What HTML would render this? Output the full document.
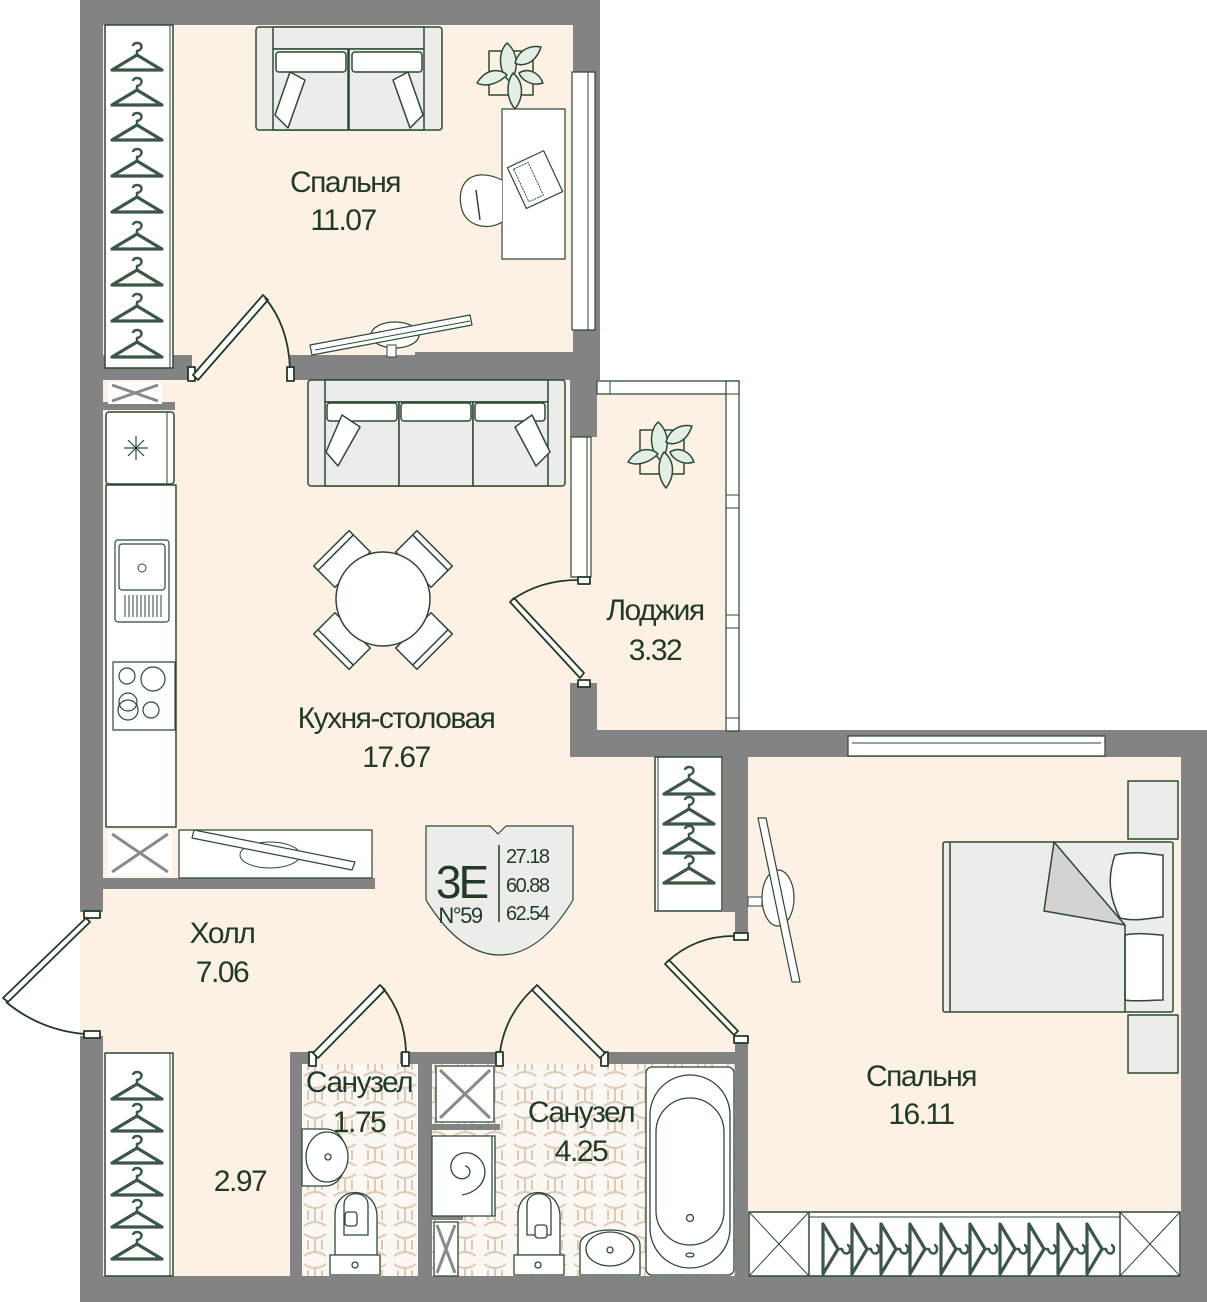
<!DOCTYPE html>
<html><head><meta charset="utf-8"><style>
html,body{margin:0;padding:0;background:#fff;}
svg{display:block}
text{font-family:"Liberation Sans",sans-serif;fill:#1f3a25;letter-spacing:-1.5px}
</style></head><body>
<svg width="1207" height="1302" viewBox="0 0 1207 1302" xmlns="http://www.w3.org/2000/svg">
<defs>
<symbol id="hg" viewBox="0 0 54 30" overflow="visible">
<path d="M2,27 L27,12 L52,27 Z" fill="none" stroke="#3b5746" stroke-width="3.2" stroke-linejoin="round"/>
<path d="M27,12 L27,8 C33,7 33,0 27,0 C24,0 23,2 23,3" fill="none" stroke="#3b5746" stroke-width="2.5"/>
</symbol>
<symbol id="hgv" viewBox="0 0 30 54" overflow="visible">
<path d="M3,2 L18,27 L3,52 Z" fill="none" stroke="#3b5746" stroke-width="3.2" stroke-linejoin="round"/>
<path d="M18,27 L22,27 C23,33 30,33 30,27 C30,24 28,23 27,23" fill="none" stroke="#3b5746" stroke-width="2.5"/>
</symbol>
<pattern id="tile" width="30" height="30" patternUnits="userSpaceOnUse">
<rect width="30" height="30" fill="#fbf7f2"/>
<path d="M4,4 Q15,12 26,4 M4,26 Q15,18 26,26 M8,10 L8,20 M22,10 L22,20 M15,8 L15,22" fill="none" stroke="#ddc9b4" stroke-width="2"/>
</pattern>
<g id="plant">
<rect x="-22" y="-22" width="44" height="44" fill="none" stroke="#2b4a33" stroke-width="1.5"/>
<path d="M-4,-30 C8,-20 8,0 -2,8 C-14,-4 -12,-22 -4,-30 Z" fill="#e2eee6" stroke="#2b4a33" stroke-width="1.5"/>
<path d="M30,-26 C24,-8 10,-6 4,-10 C8,-24 20,-28 30,-26 Z" fill="#e2eee6" stroke="#2b4a33" stroke-width="1.5"/>
<path d="M-34,10 C-24,-6 -10,-4 -4,2 C-14,12 -26,14 -34,10 Z" fill="#e2eee6" stroke="#2b4a33" stroke-width="1.5"/>
<path d="M4,36 C-6,24 -4,8 2,0 C14,10 12,26 4,36 Z" fill="#e2eee6" stroke="#2b4a33" stroke-width="1.5"/>
<path d="M32,10 C20,14 10,6 8,0 C18,-6 28,0 32,10 Z" fill="#e2eee6" stroke="#2b4a33" stroke-width="1.5"/>
</g>
</defs>
<g stroke-linejoin="round">
<!-- floors -->
<rect x="80" y="0" width="520" height="1302" fill="#fdf0e4"/>
<rect x="597" y="380" width="143" height="352" fill="#fdf0e4"/>
<rect x="570" y="730" width="637" height="572" fill="#fdf0e4"/>
<rect x="302" y="1064" width="116" height="212" fill="url(#tile)"/>
<rect x="432" y="1064" width="306" height="212" fill="url(#tile)"/>

<!-- walls -->
<g fill="#838383">
<rect x="80" y="0" width="520" height="25"/>
<rect x="80" y="0" width="23" height="912"/>
<rect x="80" y="1036" width="23" height="266"/>
<rect x="573" y="0" width="27" height="380"/>
<rect x="80" y="355" width="112" height="25"/>
<rect x="290" y="355" width="290" height="25"/>
<rect x="415" y="352" width="160" height="10"/>
<rect x="570" y="378" width="27" height="59"/>
<rect x="570" y="683" width="27" height="74"/>
<rect x="570" y="730" width="637" height="27"/>
<rect x="1181" y="730" width="26" height="572"/>
<rect x="80" y="1276" width="1127" height="26"/>
<rect x="103" y="878" width="272" height="11"/>
<rect x="103" y="402" width="72" height="8"/>
<rect x="723" y="757" width="25" height="155"/>
<rect x="735" y="905" width="13" height="30"/>
<rect x="735" y="1036" width="13" height="240"/>
<rect x="290" y="1052" width="22" height="12"/>
<rect x="400" y="1052" width="100" height="12"/>
<rect x="600" y="1052" width="148" height="12"/>
<rect x="290" y="1052" width="12" height="224"/>
<rect x="418" y="1052" width="14" height="224"/>
<rect x="418" y="1124" width="82" height="6"/>
<rect x="418" y="1214" width="45" height="6"/>
</g>

<!-- bedroom 1 wardrobe -->
<rect x="105" y="25" width="68" height="343" fill="#fff" stroke="#2b4a33" stroke-width="1.5"/>
<line x1="170" y1="25" x2="170" y2="368" stroke="#2b4a33" stroke-width="1"/>
<g>
<use href="#hg" x="110" y="43" width="54" height="30"/>
<use href="#hg" x="110" y="78" width="54" height="30"/>
<use href="#hg" x="110" y="113" width="54" height="30"/>
<use href="#hg" x="110" y="149" width="54" height="30"/>
<use href="#hg" x="110" y="185" width="54" height="30"/>
<use href="#hg" x="110" y="222" width="54" height="30"/>
<use href="#hg" x="110" y="258" width="54" height="30"/>
<use href="#hg" x="110" y="294" width="54" height="30"/>
<use href="#hg" x="110" y="330" width="54" height="30"/>
</g>
<!-- sofa bedroom 1 -->
<g stroke="#2b4a33" stroke-width="1.5">
<rect x="256" y="27" width="186" height="103" rx="3" fill="#ececea"/>
<rect x="273" y="27" width="151" height="22" fill="#ececea"/>
<rect x="273" y="49" width="75" height="81" fill="#ececea"/>
<rect x="349" y="49" width="75" height="81" fill="#ececea"/>
<rect x="276" y="52" width="70" height="20" rx="3" fill="#fff"/>
<rect x="352" y="52" width="70" height="20" rx="3" fill="#fff"/>
<path d="M275,115 L290,72 L305,80 L288,128 Z" fill="#fff"/>
<path d="M393,80 L408,72 L423,115 L410,128 Z" fill="#fff"/>
</g>
<use href="#plant" transform="translate(511,73)"/>
<!-- window bedroom1 -->
<rect x="572" y="72" width="23" height="258" fill="#fff" stroke="#2b4a33" stroke-width="1.2"/>
<line x1="588" y1="72" x2="588" y2="330" stroke="#2b4a33" stroke-width="1"/>
<!-- desk -->
<rect x="502" y="109" width="63" height="150" fill="#fff" stroke="#2b4a33" stroke-width="1.2"/>
<g transform="rotate(-25 533 180)"><rect x="515" y="158" width="40" height="45" fill="#fff" stroke="#2b4a33" stroke-width="1.2"/><rect x="520" y="162" width="16" height="36" fill="none" stroke="#2b4a33" stroke-width="1" stroke-dasharray="2 1"/></g>
<path d="M502,180 C470,165 455,185 462,210 C468,228 490,230 502,222" fill="#fff" stroke="#2b4a33" stroke-width="1.2"/>
<line x1="476" y1="190" x2="480" y2="220" stroke="#2b4a33" stroke-width="1.5"/>
<!-- TV bedroom1 -->
<ellipse cx="395" cy="335" rx="24" ry="13" fill="#fff" stroke="#2b4a33" stroke-width="1.2"/>
<rect x="387" y="345" width="9" height="12" fill="#fff" stroke="#2b4a33" stroke-width="1"/>
<polygon points="310,345 470,315 472,325 312,355" fill="#fff" stroke="#2b4a33" stroke-width="1.2"/>
<line x1="315" y1="350" x2="470" y2="321" stroke="#2b4a33" stroke-width="1"/>
<!-- bedroom1 door -->
<g stroke="#1f3a25" stroke-width="1.8" fill="#fff">
<rect x="188" y="367" width="7" height="14"/>
<rect x="287" y="367" width="7" height="14"/>
<polygon points="193,375 263,295 268,300 198,380"/>
<path d="M265,298 Q288,325 290,368" fill="none"/>
</g>

<!-- kitchen -->
<rect x="108" y="382" width="54" height="22" fill="#fff"/>
<path d="M112,385 L158,401 M158,385 L112,401" stroke="#8a8a8a" stroke-width="3"/>
<rect x="106" y="412" width="68" height="72" rx="3" fill="#fff" stroke="#2b4a33" stroke-width="1.5"/>
<line x1="167" y1="412" x2="167" y2="484" stroke="#2b4a33"/>
<path d="M136,436 v24 M124,448 h24 M128,440 l16,16 M144,440 l-16,16" stroke="#2b4a33" stroke-width="1.2"/>
<rect x="106" y="485" width="70" height="342" fill="#fff" stroke="#2b4a33" stroke-width="1.5"/>
<rect x="115" y="540" width="54" height="82" rx="3" fill="#fff" stroke="#2b4a33" stroke-width="1.2"/>
<rect x="119" y="544" width="46" height="46" rx="3" fill="#fff" stroke="#2b4a33" stroke-width="1.2"/>
<circle cx="142" cy="568" r="4" fill="none" stroke="#2b4a33"/>
<path d="M125,595v22M129,595v22M133,595v22M137,595v22M141,595v22M145,595v22M149,595v22M153,595v22M157,595v22M161,595v22" stroke="#2b4a33" stroke-width="1"/>
<rect x="113" y="662" width="62" height="68" fill="#fff" stroke="#2b4a33" stroke-width="1.2"/>
<g fill="none" stroke="#2b4a33" stroke-width="1.2"><circle cx="127" cy="676" r="8"/><circle cx="153" cy="679" r="12"/><circle cx="128" cy="710" r="10"/><circle cx="128" cy="702" r="9"/><circle cx="151" cy="710" r="8"/></g>
<rect x="108" y="830" width="64" height="46" fill="#fff"/>
<path d="M112,834 L168,872 M168,834 L112,872" stroke="#8a8a8a" stroke-width="3"/>
<rect x="179" y="830" width="193" height="48" fill="#fff" stroke="#2b4a33" stroke-width="1.2"/>
<ellipse cx="270" cy="855" rx="30" ry="13" fill="#fff" stroke="#2b4a33" stroke-width="1"/>
<polygon points="194,830 355,862 352,870 192,838" fill="#fff" stroke="#2b4a33" stroke-width="1.2"/>
<!-- sofa kitchen -->
<g stroke="#2b4a33" stroke-width="1.5">
<rect x="308" y="380" width="257" height="106" rx="3" fill="#ececea"/>
<rect x="325" y="380" width="223" height="22" fill="#ececea"/>
<rect x="325" y="402" width="74" height="84" fill="#ececea"/>
<rect x="399" y="402" width="74" height="84" fill="#ececea"/>
<rect x="473" y="402" width="75" height="84" fill="#ececea"/>
<rect x="327" y="403" width="70" height="18" rx="3" fill="#fff"/>
<rect x="401" y="403" width="70" height="18" rx="3" fill="#fff"/>
<rect x="475" y="403" width="70" height="18" rx="3" fill="#fff"/>
<path d="M326,452 L342,415 L360,427 L338,466 Z" fill="#fff"/>
<path d="M515,427 L532,415 L550,452 L536,466 Z" fill="#fff"/>
</g>
<!-- table -->
<g stroke="#2b4a33" stroke-width="1.5" fill="#fff">
<g transform="rotate(-45 383 600)"><rect x="358" y="527" width="50" height="30"/><line x1="358" y1="533" x2="408" y2="533"/></g>
<g transform="rotate(45 383 600)"><rect x="358" y="527" width="50" height="30"/><line x1="358" y1="533" x2="408" y2="533"/></g>
<g transform="rotate(135 383 600)"><rect x="358" y="527" width="50" height="30"/><line x1="358" y1="533" x2="408" y2="533"/></g>
<g transform="rotate(225 383 600)"><rect x="358" y="527" width="50" height="30"/><line x1="358" y1="533" x2="408" y2="533"/></g>
<circle cx="383" cy="599" r="47"/>
</g>

<!-- loggia -->
<rect x="597" y="381" width="142" height="13" fill="#fff" stroke="#2b4a33" stroke-width="1.2"/>
<line x1="610" y1="381" x2="610" y2="394" stroke="#2b4a33"/>
<rect x="726" y="381" width="13" height="350" fill="#fff" stroke="#2b4a33" stroke-width="1.2"/>
<path d="M726,394h13M726,495h13M726,508h13M726,615h13M726,628h13M726,718h13" stroke="#2b4a33" stroke-width="1"/>
<use href="#plant" transform="translate(662,452)"/>
<rect x="571" y="437" width="20" height="140" fill="#fff" stroke="#2b4a33" stroke-width="1.2"/>
<line x1="587" y1="437" x2="587" y2="577" stroke="#2b4a33"/>
<g stroke="#1f3a25" stroke-width="1.8" fill="#fff">
<rect x="578" y="577" width="12" height="7"/>
<rect x="578" y="680" width="12" height="7"/>
<polygon points="510,602 514,598 584,673 580,678"/>
<path d="M512,600 Q540,580 578,580" fill="none"/>
</g>

<!-- entry door -->
<g stroke="#1f3a25" stroke-width="1.8" fill="#fff">
<rect x="84" y="911" width="16" height="7"/>
<rect x="84" y="1031" width="16" height="7"/>
<polygon points="86,918 90,922 8,1002 3,998"/>
<path d="M6,1002 Q40,1030 84,1034" fill="none"/>
</g>

<!-- hall wardrobe -->
<rect x="105" y="1053" width="68" height="223" fill="#fff" stroke="#2b4a33" stroke-width="1.5"/>
<line x1="170" y1="1053" x2="170" y2="1276" stroke="#2b4a33"/>
<use href="#hg" x="110" y="1072" width="54" height="30"/>
<use href="#hg" x="110" y="1104" width="54" height="30"/>
<use href="#hg" x="110" y="1136" width="54" height="30"/>
<use href="#hg" x="110" y="1168" width="54" height="30"/>
<use href="#hg" x="110" y="1200" width="54" height="30"/>
<use href="#hg" x="110" y="1232" width="54" height="30"/>

<!-- wardrobe near bedroom2 -->
<rect x="655" y="757" width="67" height="154" fill="#fff" stroke="#2b4a33" stroke-width="1.5"/>
<line x1="658" y1="757" x2="658" y2="911" stroke="#2b4a33"/>
<use href="#hg" x="662" y="767" width="54" height="30"/>
<use href="#hg" x="662" y="797" width="54" height="30"/>
<use href="#hg" x="662" y="826" width="54" height="30"/>
<use href="#hg" x="662" y="856" width="54" height="30"/>

<!-- bedroom2 door -->
<g stroke="#1f3a25" stroke-width="1.8" fill="#fff">
<rect x="734" y="933" width="14" height="7"/>
<rect x="734" y="1036" width="14" height="7"/>
<polygon points="665,964 669,960 738,1031 734,1035"/>
<path d="M667,962 Q695,936 734,936" fill="none"/>
</g>
<!-- bedroom2 window -->
<rect x="848" y="736" width="257" height="20" fill="#fff" stroke="#2b4a33" stroke-width="1.2"/>
<line x1="852" y1="743" x2="1101" y2="743" stroke="#2b4a33"/>
<!-- TV bedroom2 -->
<ellipse cx="778" cy="898" rx="16" ry="28" fill="#fff" stroke="#2b4a33" stroke-width="1.2"/>
<rect x="748" y="897" width="14" height="9" fill="#fff" stroke="#2b4a33"/>
<polygon points="758,818 766,818 800,982 792,982" fill="#fff" stroke="#2b4a33" stroke-width="1.2"/>
<!-- bed -->
<g stroke="#2b4a33" stroke-width="1.5">
<rect x="1128" y="781" width="50" height="58" fill="#ececea"/>
<rect x="1128" y="1015" width="50" height="58" fill="#ececea"/>
<rect x="943" y="842" width="230" height="170" rx="2" fill="#ececea"/>
<line x1="950" y1="842" x2="950" y2="1012"/>
<path d="M1054,842 L1125,925 L1044,911 Z" fill="#d3d3d3"/>
<path d="M1115,855 C1140,850 1155,855 1163,855 L1163,917 C1150,918 1135,922 1120,918 C1108,895 1108,875 1115,855 Z" fill="#fff"/>
<path d="M1125,935 C1140,932 1155,935 1163,935 L1163,1000 C1150,1000 1135,1002 1125,1000 Z" fill="#fff"/>
<line x1="1125" y1="925" x2="1125" y2="1012"/>
</g>
<!-- bedroom2 wardrobe -->
<g stroke="#2b4a33" stroke-width="1.5" fill="#fff">
<rect x="749" y="1212" width="431" height="64"/>
<line x1="809" y1="1212" x2="809" y2="1276"/>
<line x1="1120" y1="1212" x2="1120" y2="1276"/>
<path d="M749,1212 L809,1276 M809,1212 L749,1276 M1120,1212 L1180,1276 M1180,1212 L1120,1276" stroke-width="1"/>
<line x1="809" y1="1217" x2="1120" y2="1217" stroke-width="1"/>
</g>
<g>
<use href="#hgv" x="820" y="1222" width="30" height="54"/>
<use href="#hgv" x="849" y="1222" width="30" height="54"/>
<use href="#hgv" x="878" y="1222" width="30" height="54"/>
<use href="#hgv" x="907" y="1222" width="30" height="54"/>
<use href="#hgv" x="938" y="1222" width="30" height="54"/>
<use href="#hgv" x="967" y="1222" width="30" height="54"/>
<use href="#hgv" x="997" y="1222" width="30" height="54"/>
<use href="#hgv" x="1026" y="1222" width="30" height="54"/>
<use href="#hgv" x="1055" y="1222" width="30" height="54"/>
<use href="#hgv" x="1084" y="1222" width="30" height="54"/>
</g>

<!-- bathrooms -->
<g stroke="#1f3a25" stroke-width="1.8" fill="#fff">
<rect x="309" y="1052" width="7" height="14"/>
<rect x="402" y="1052" width="7" height="14"/>
<rect x="496" y="1052" width="7" height="14"/>
<rect x="601" y="1052" width="7" height="14"/>
<polygon points="313,1053 380,985 385,990 318,1058"/>
<path d="M382,987 Q405,1015 406,1052" fill="none"/>
<polygon points="532,990 537,985 605,1053 600,1058"/>
<path d="M534,988 Q505,1015 500,1052" fill="none"/>
</g>
<g stroke="#2b4a33" stroke-width="1.3" fill="#fff">
<path d="M302,1129 L325,1129 C355,1129 352,1186 325,1186 L302,1186 Z"/>
<ellipse cx="327" cy="1157" rx="21" ry="25"/>
<circle cx="328" cy="1157" r="3"/>
<path d="M335,1255 L335,1215 C335,1185 375,1185 377,1215 L377,1255 Z"/>
<path d="M344,1205 C344,1190 368,1190 368,1205 L368,1235 L344,1235 Z" fill="none"/>
<rect x="345" y="1212" width="12" height="14" rx="3"/>
<rect x="330" y="1255" width="50" height="20"/>
<circle cx="355" cy="1265" r="3"/>
<rect x="436" y="1066" width="58" height="56" />
<path d="M440,1070 L490,1118 M490,1070 L440,1118" stroke="#8a8a8a" stroke-width="3"/>
<rect x="432" y="1136" width="63" height="80"/>
<line x1="492" y1="1136" x2="492" y2="1216"/>
<path d="M462,1195 C490,1190 492,1160 470,1153 C450,1150 445,1172 458,1178 C470,1182 474,1168 465,1166" fill="none"/>
<rect x="434" y="1222" width="24" height="54"/>
<path d="M437,1225 L455,1273 M455,1225 L437,1273" stroke="#8a8a8a" stroke-width="3"/>
<path d="M518,1255 L518,1215 C518,1185 558,1185 560,1215 L560,1255 Z"/>
<path d="M527,1205 C527,1190 551,1190 551,1205 L551,1235 L527,1235 Z" fill="none"/>
<rect x="535" y="1225" width="12" height="13" rx="3"/>
<rect x="514" y="1255" width="50" height="20"/>
<circle cx="538" cy="1265" r="3"/>
<path d="M580,1275 L580,1245 C580,1225 640,1225 640,1245 L640,1275 Z"/>
<ellipse cx="610" cy="1249" rx="24" ry="17"/>
<circle cx="610" cy="1250" r="3"/>
<rect x="646" y="1067" width="88" height="208" rx="6"/>
<rect x="650" y="1075" width="80" height="193" rx="40"/>
<rect x="656" y="1098" width="68" height="147" rx="34"/>
<circle cx="690" cy="1218" r="3.5"/>
<ellipse cx="690" cy="1255" rx="4" ry="2"/>
</g>

<!-- info badge -->
<path d="M426,826 L490,826 L498,834 L506,826 L573,826 L573,900 Q540,955 500,955 Q460,955 426,900 Z" fill="#ececea" stroke="#2b4a33" stroke-width="1.2"/>
<line x1="499" y1="845" x2="499" y2="922" stroke="#1f3a25" stroke-width="1.5"/>
<text x="461" y="898" font-size="46" text-anchor="middle" style="letter-spacing:-3px">3E</text>
<text x="460" y="923" font-size="22" text-anchor="middle">N°59</text>
<text x="506" y="863" font-size="20">27.18</text>
<text x="506" y="892" font-size="20">60.88</text>
<text x="506" y="920" font-size="20">62.54</text>

<!-- labels -->
<g font-size="30" text-anchor="middle">
<text x="345" y="192">Спальня</text>
<text x="343" y="230">11.07</text>
<text x="396" y="728">Кухня-столовая</text>
<text x="396" y="767">17.67</text>
<text x="655" y="620">Лоджия</text>
<text x="655" y="660">3.32</text>
<text x="222" y="943">Холл</text>
<text x="222" y="982">7.06</text>
<text x="359" y="1092">Санузел</text>
<text x="359" y="1132">1.75</text>
<text x="581" y="1122">Санузел</text>
<text x="581" y="1161">4.25</text>
<text x="240" y="1191">2.97</text>
<text x="921" y="1086">Спальня</text>
<text x="921" y="1124">16.11</text>
</g>
</g>
</svg>
</body></html>
